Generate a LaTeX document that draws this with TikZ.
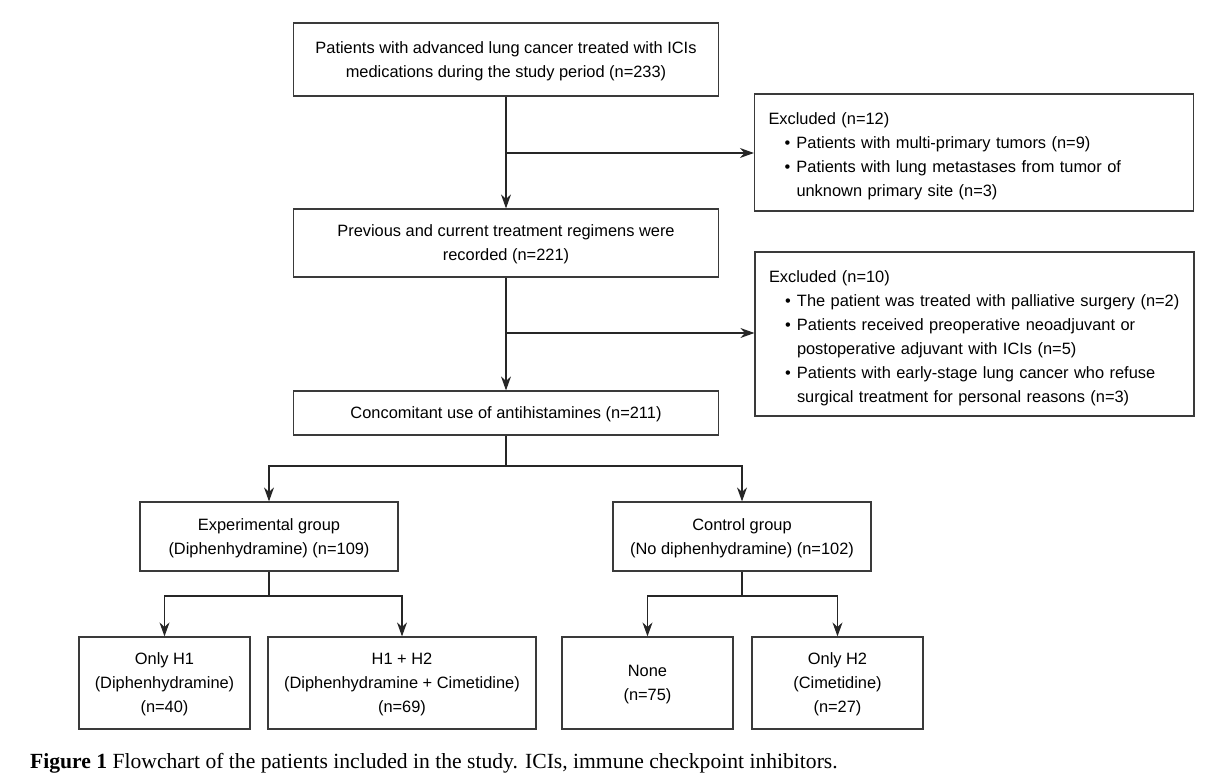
\documentclass[tikz,border=0pt]{standalone}
\usepackage{fontspec}
\setmainfont{Liberation Sans}
\newfontfamily\capfont{Liberation Serif}
\usetikzlibrary{arrows.meta,positioning}
\definecolor{linegray}{HTML}{3A3A3A}
\newcommand{\bitem}{\hspace*{16pt}\makebox[12pt][l]{\textbullet}}
\newcommand{\bcont}{\hspace*{28pt}}
\newcommand{\topstrut}{\rule{0pt}{20pt}}
\tikzset{
  box/.style={draw=linegray,line width=1.2pt,align=center,inner sep=0pt,text depth=0pt,font=\fontsize{16.4}{24}\selectfont},
  excl/.style={draw=linegray,line width=1.2pt,align=left,inner xsep=14pt,inner ysep=0pt,text width=411pt,font=\fontsize{16.4}{24}\selectfont},
  line/.style={draw=black!85,line width=1.1pt},
  arrow/.style={line,-{Stealth[length=14pt,width=10pt]}}
}
\begin{document}
\begin{tikzpicture}[x=1pt,y=-1pt]
  \useasboundingbox (0,0) rectangle (1224,778);

  \node (top) [box,minimum width=425pt,minimum height=73pt] at (506,59.5) {Patients with advanced lung cancer treated with ICIs\\medications during the study period (n=233)};
  \node (excl1) [excl,minimum width=438pt,minimum height=117pt] at (974,152.5) {\topstrut Excluded (n=12)\\
    \bitem Patients with multi-primary tumors (n=9)\\
    \bitem Patients with lung metastases from tumor of\\
    \bcont unknown primary site (n=3)};
  \node (prev) [box,minimum width=425pt,minimum height=68pt] at (506,243) {Previous and current treatment regimens were\\recorded (n=221)};
  \node (excl2) [excl,minimum width=439pt,minimum height=164pt] at (974.5,334) {\topstrut Excluded (n=10)\\
    \bitem The patient was treated with palliative surgery (n=2)\\
    \bitem Patients received preoperative neoadjuvant or\\
    \bcont postoperative adjuvant with ICIs (n=5)\\
    \bitem Patients with early-stage lung cancer who refuse\\
    \bcont surgical treatment for personal reasons (n=3)};
  \node (conc) [box,minimum width=425pt,minimum height=44pt] at (506,413) {Concomitant use of antihistamines (n=211)};

  \node (exp) [box,minimum width=258pt,minimum height=69pt] at (269,536.5) {Experimental group\\(Diphenhydramine) (n=109)};
  \node (ctrl) [box,minimum width=258pt,minimum height=69pt] at (742,536.5) {Control group\\(No diphenhydramine) (n=102)};

  \node (only1) [box,minimum width=171pt,minimum height=92pt] at (164.5,683) {Only H1\\(Diphenhydramine)\\(n=40)};
  \node (both) [box,minimum width=268pt,minimum height=92pt] at (402,683) {H1 + H2\\(Diphenhydramine + Cimetidine)\\(n=69)};
  \node (none) [box,minimum width=171pt,minimum height=92pt] at (647.5,683) {None\\(n=75)};
  \node (only2) [box,minimum width=171pt,minimum height=92pt] at (837.5,683) {Only H2\\(Cimetidine)\\(n=27)};

  % branch points
  \coordinate (j1) at (506,153);
  \coordinate (j2) at (506,333);
  \coordinate (s1) at (506,466);
  \coordinate (s2) at (269,596);
  \coordinate (s3) at (742,596);

  \draw[arrow] (top) -- (prev);
  \draw[arrow] (j1) -- (j1 -| excl1.west);
  \draw[arrow] (prev) -- (conc);
  \draw[arrow] (j2) -- (j2 -| excl2.west);

  \draw[line] (conc) -- (s1);
  \draw[arrow] (s1) -| (exp);
  \draw[arrow] (s1) -| (ctrl);

  \draw[line] (exp) -- (s2);
  \draw[arrow] (s2) -| (only1);
  \draw[arrow] (s2) -| (both);
  \draw[line] (ctrl) -- (s3);
  \draw[arrow] (s3) -| (none);
  \draw[arrow] (s3) -| (only2);

  \node (caption) [anchor=base west,inner sep=0pt,font=\capfont\fontsize{21.6}{24}\selectfont] at (30,768) {\textbf{Figure 1} Flowchart of the patients included in the study. ICIs, immune checkpoint inhibitors.};
\end{tikzpicture}
\end{document}
